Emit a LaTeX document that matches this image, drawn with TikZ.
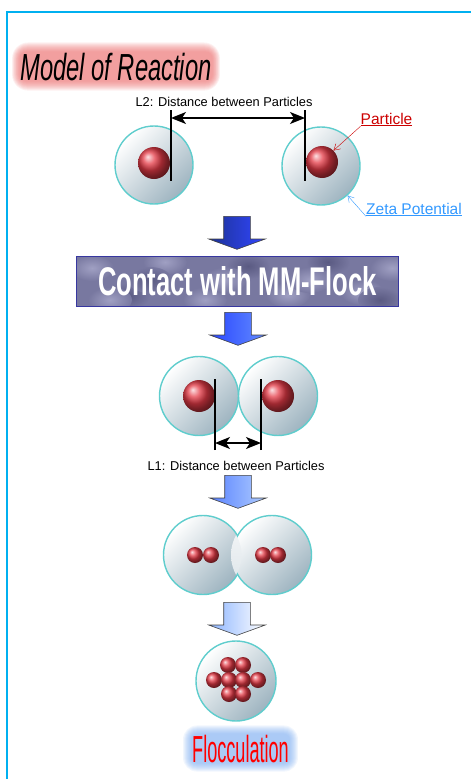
\documentclass[tikz,border=0pt]{standalone}
\usepackage{fontspec}
\setmainfont{Liberation Sans}
\newfontfamily\titlefont{Liberation Sans}[FakeStretch=0.63]
\newfontfamily\bannerfont{Liberation Sans}[FakeStretch=0.64]
\newfontfamily\flocfont{Liberation Sans}[FakeStretch=0.48]
\usetikzlibrary{shapes.arrows,arrows.meta,calc,backgrounds}

\definecolor{framecyan}{RGB}{0,176,240}
\definecolor{shellrim}{RGB}{95,205,205}
\definecolor{shelldark}{RGB}{158,180,192}
\definecolor{ballred}{RGB}{228,58,70}
\definecolor{bannerfill}{RGB}{120,120,160}
\definecolor{bannerlight}{RGB}{160,160,195}
\definecolor{bannerdark}{RGB}{90,90,130}
\definecolor{bannerline}{RGB}{55,55,160}
\definecolor{zetablue}{RGB}{51,153,255}
\definecolor{partred}{RGB}{204,0,0}
\definecolor{glowred}{RGB}{235,110,110}
\definecolor{glowblue}{RGB}{120,170,240}
\definecolor{arrowAtop}{RGB}{28,50,150}
\definecolor{arrowAbot}{RGB}{50,70,255}
\definecolor{arrowBtop}{RGB}{40,70,255}
\definecolor{arrowBbot}{RGB}{100,140,255}
\definecolor{arrowCtop}{RGB}{90,130,255}
\definecolor{arrowCbot}{RGB}{175,205,255}
\definecolor{arrowDtop}{RGB}{140,180,255}

\begin{document}
\begin{tikzpicture}[x=1pt, y=-1pt,
  shell/.style={circle, draw=shellrim, line width=1.4pt, inner sep=0pt,
    minimum size=78pt, top color=white, bottom color=shelldark, shading angle=45},
  bigball/.style={circle, inner sep=0pt, minimum size=32pt, ball color=ballred},
  smallball/.style={bigball, minimum size=16pt},
  gauge/.style={black, line width=1.4pt},
  span/.style={black, line width=1.4pt,
    {Stealth[length=15pt,width=12pt,inset=4pt]}-{Stealth[length=15pt,width=12pt,inset=4pt]}},
  flowarrow/.style={single arrow, draw=black!75, line width=0.6pt, rotate=-90,
    anchor=tail, minimum height=33pt, inner xsep=0pt, inner ysep=13pt,
    single arrow head extend=15pt, single arrow tip angle=140},
  caption/.style={font=\fontsize{12.8}{15}\selectfont, inner sep=0pt},
  callout/.style={font=\fontsize{15.5}{18}\selectfont, inner sep=0pt, anchor=base}]

  \useasboundingbox (0,0) rectangle (471,779);
  \draw[framecyan, line width=2pt] (7,781) -- (7,12) -- (473,12);

  % title with glow
  \node[font=\titlefont\itshape\fontsize{37.7}{40}\selectfont, anchor=base,
    inner sep=0pt] (title) at (116,80) {Model of Reaction};
  \begin{scope}[on background layer]
    \foreach \d in {1,...,10}
      \fill[glowred, opacity=.1, rounded corners=6pt+\d pt]
        ($(title.south west)+(-0.8*\d,\d)$) rectangle ($(title.north east)+(0.8*\d,-\d)$);
  \end{scope}

  % far apart
  \node[shell] (s1) at (154,165) {};
  \node[shell] (s2) at (321,166) {};
  \node[bigball] (p1) at (154,163) {};
  \node[bigball] (p2) at (322,162) {};
  \coordinate (l2left) at (171,118);
  \coordinate (l2right) at (305,118);
  \draw[gauge] (l2left) ++(0,-8) -- ++(0,71);
  \draw[gauge] (l2right) ++(0,-8) -- ++(0,71);
  \draw[span] (l2left) -- (l2right);
  \node[caption] (l2) at (224,102) {L2: Distance between Particles};

  \node[callout, text=partred] (partlbl) at (386.5,124) {\underline{Particle}};
  \draw[partred, -{Straight Barb[length=6pt,width=7pt]}] (partlbl.south west) -- (p2.north east);
  \node[callout, text=zetablue] (zetalbl) at (414,214) {\underline{Zeta Potential}};
  \draw[zetablue, -{Straight Barb[length=6pt,width=7pt]}] (zetalbl.south west) -- (s2.-48);

  \node[flowarrow, left color=arrowAtop, right color=arrowAbot] (a1) at (237,216) {};

  % contact
  \node[fill=bannerfill, minimum width=322pt, minimum height=50pt,
    inner sep=0pt] (flock) at (237.5,281.5) {};
  \begin{scope}
    \clip (flock.south west) rectangle (flock.north east);
    \foreach \x/\y/\c in {92/268/bannerlight, 128/296/bannerdark, 165/262/bannerlight,
        205/300/bannerlight, 248/266/bannerdark, 288/295/bannerlight, 328/262/bannerdark,
        362/292/bannerlight, 392/268/bannerlight, 150/280/bannerdark, 310/280/bannerlight,
        225/280/bannerlight, 380/300/bannerdark, 110/300/bannerlight}
      \shade[inner color=\c, outer color=bannerfill] (\x,\y) ellipse (22pt and 13pt);
  \end{scope}
  \draw[bannerline, line width=1.5pt] (flock.south west) rectangle (flock.north east);
  \node[text=white, inner sep=0pt,
    font=\bannerfont\bfseries\fontsize{40}{42}\selectfont] (flocktxt) at (flock.center)
    {Contact with MM-Flock};

  \node[flowarrow, left color=arrowBtop, right color=arrowBbot] (a2) at (238,312) {};

  % close together
  \node[shell, minimum size=79pt] (s3) at (199,396) {};
  \node[shell, minimum size=79pt] (s4) at (278,396) {};
  \node[bigball] (p3) at (199,396) {};
  \node[bigball] (p4) at (278,396) {};
  \coordinate (l1left) at (215,443);
  \coordinate (l1right) at (261,443);
  \draw[gauge] (l1left) ++(0,7) -- ++(0,-71);
  \draw[gauge] (l1right) ++(0,7) -- ++(0,-71);
  \draw[span] (l1left) -- (l1right);
  \node[caption] (l1) at (236,466) {L1: Distance between Particles};

  \node[flowarrow, left color=arrowCtop, right color=arrowCbot] (a3) at (238,475) {};

  % merging
  \node[shell, minimum size=79pt] (s5) at (203,555) {};
  \node[shell, minimum size=79pt] (s6) at (272,555) {};
  \begin{scope}
    \clip (s5.center) circle (38.6pt);
    \shade[top color=white!92!shelldark, bottom color=white!62!shelldark]
      (s6.center) circle (41pt);
  \end{scope}
  \foreach \x [count=\i] in {195,211,263,278}
    \node[smallball] (q\i) at (\x,555) {};

  \node[flowarrow, left color=arrowDtop, right color=white] (a4) at (237,602) {};

  % flocculated
  \node[shell, minimum size=80pt] (s7) at (236,681) {};
  \foreach \x/\y [count=\i] in {228/665,243/665,214/680,229/680,243/680,258/680,229/694,243/694}
    \node[smallball] (f\i) at (\x,\y) {};

  \node[font=\flocfont\fontsize{37.7}{40}\selectfont, text=red, anchor=base,
    inner sep=0pt] (floc) at (240.5,762) {Flocculation};
  \begin{scope}[on background layer]
    \foreach \d in {1,...,9}
      \fill[glowblue, opacity=.1, rounded corners=5pt+\d pt]
        ($(floc.south west)+(-\d,\d)$) rectangle ($(floc.north east)+(\d,-\d)$);
  \end{scope}
\end{tikzpicture}
\end{document}
